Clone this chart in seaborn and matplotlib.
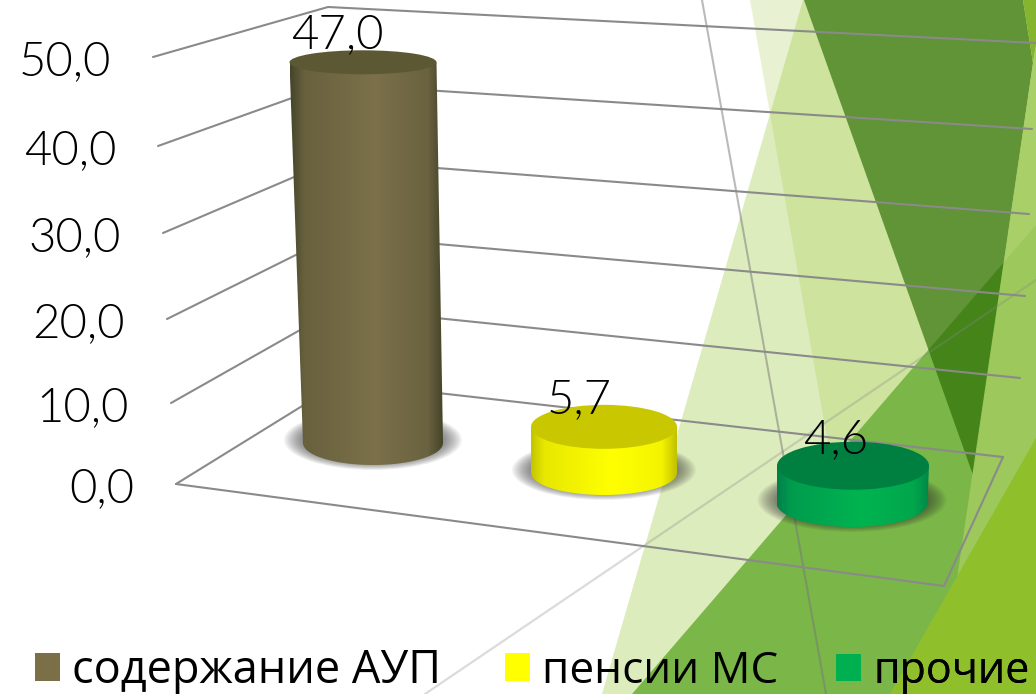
import numpy as np
import pandas as pd
import seaborn as sns
import matplotlib.pyplot as plt
from matplotlib.patches import Ellipse, Polygon, Patch
from matplotlib.colors import LinearSegmentedColormap

# data
categories = ['содержание АУП', 'пенсии МС', 'прочие']
values = [47.0, 5.7, 4.6]
tick_values = [0, 10, 20, 30, 40, 50]
colors = ['#7a6f47', '#ffff00', '#00b050']
top_colors = ['#5d5834', '#c9c800', '#008040']
side_stops = [0, 0.09, 0.55, 0.9, 1]
side_colors = [
    ['#45452a', '#68613e', '#7b7049', '#6a6240', '#434327'],
    ['#c4c400', '#e8e800', '#ffff00', '#f4f400', '#c2c200'],
    ['#00804a', '#009c4e', '#00b450', '#00a64c', '#008648'],
]

# layout, in pixels of the picture
W, H = 1036, 694
PX_PER_UNIT = 8.1
FLOOR_Y0 = 484
bar_x = [373, 604, 852]
bar_base_y = [443, 473, 503]
bar_lean = [-10, 0, 1]
top_w = [147, 146, 152]
foot_w = [140, 146, 151]
top_b = [12, 22, 24]
base_b = [22, 22, 24]
left_ends = [(176, 484), (171, 403), (167, 319), (163, 233), (158, 146), (153, 57)]
corners = [(341, 382), (339, 308), (336, 235), (334, 160), (331, 84), (328, 7)]
right_ends = [(1003, 457), (1020, 378), (1025, 296), (1029, 214), (1032, 129), (1036, 43)]
label_shift = [(-26, -27), (-25, -27), (-17, -26)]
legend_x = [35, 505, 836]
legend_size = [32.5, 31.8, 31.0]


def to_val(py):
    return (FLOOR_Y0 - py) / PX_PER_UNIT


sns.set_style('white')
plt.rcParams['font.family'] = ['Open Sans', 'DejaVu Sans']
fig = plt.figure(figsize=(W / 100, H / 100), dpi=100)

# background shapes and the walls of the 3d box
bg = fig.add_axes([0, 0, 1, 1])
bg.set_xlim(0, W)
bg.set_ylim(H, 0)
bg.axis('off')
bg.add_patch(Polygon([(803, 0), (W, 0), (W, H), (602, H)], fc='#90c226', alpha=0.3, lw=0))
bg.add_patch(Polygon([(750, 0), (W, 0), (W, H), (872, H)], fc='#90c226', alpha=0.2, lw=0))
bg.add_patch(Polygon([(W, 225), (W, H), (632, H)], fc='#7ab648', lw=0))
bg.add_patch(Polygon([(804, 0), (1023, 0), (1033, 63), (973, 475)], fc='#286900', alpha=0.65, lw=0))
bg.add_patch(Polygon([(1023, 0), (W, 0), (W, 45), (1033, 63)], fc='#85b52e', lw=0))
bg.add_patch(Polygon([(1033, 63), (W, 45), (W, H), (940, H)], fc='#a3cc60', alpha=0.85, lw=0))
bg.add_patch(Polygon([(W, 438), (W, H), (890, H)], fc='#8fc02c', lw=0))
bg.plot([702, 826], [0, 694], color='#777777', alpha=0.5, lw=1.5)
bg.plot([425, W], [694, 280], color='#888888', alpha=0.3, lw=1.6)

for le, co, re in zip(left_ends, corners, right_ends):
    bg.plot([le[0], co[0], re[0]], [le[1], co[1], re[1]], color='#8a8a8a', lw=1.5)
bg.plot([176, 944, 1003], [484, 586, 457], color='#8a8a8a', lw=1.5)

for v, le in zip(tick_values, left_ends):
    bg.text(le[0] - 42, le[1] + 5, f'{v:.1f}'.replace('.', ','), ha='right', va='center',
            fontsize=34, color='black', family='Lato', weight=300)

# cylinders: seaborn bar gives the geometry, then the round parts go on top
ax = fig.add_axes([0, 0, 1, 1])
ax.patch.set_alpha(0)
df = pd.DataFrame({'x': bar_x, 'value': values, 'cat': categories})
floors = [to_val(y) for y in bar_base_y]
sns.barplot(data=df, x='x', y='value', hue='cat', palette=colors, native_scale=True, dodge=False,
            width=0.63, legend=False, ax=ax)
ax.axis('off')
ylim = (to_val(H), to_val(0))

for i, bar in enumerate(list(ax.patches)):
    bar.set_alpha(0)
    cx = bar.get_x() + bar.get_width() / 2
    y0 = floors[i]
    h = bar.get_height()
    tw = top_w[i]
    fw = foot_w[i]
    tb = top_b[i] / PX_PER_UNIT
    bb = base_b[i] / PX_PER_UNIT

    # soft shadow round the foot
    for k in range(14):
        ax.add_patch(Ellipse((cx, y0 + 3 / PX_PER_UNIT), fw + 38 - k * 3, 2 * bb + (16 - k * 1.2) / PX_PER_UNIT,
                             fc='#303030', alpha=0.055, lw=0, zorder=2))

    t = np.linspace(np.pi, 2 * np.pi, 40)
    foot = np.column_stack([cx + fw / 2 * np.cos(t), y0 + bb * np.sin(t)])
    verts = np.vstack([[[cx + bar_lean[i] - tw / 2, y0 + h]], foot, [[cx + bar_lean[i] + tw / 2, y0 + h]]])
    body = Polygon(verts, closed=True, fc='none', lw=0, zorder=3)
    ax.add_patch(body)
    cmap = LinearSegmentedColormap.from_list(f'side{i}', list(zip(side_stops, side_colors[i])))
    left = min(cx - fw / 2, cx + bar_lean[i] - tw / 2)
    right = max(cx + fw / 2, cx + bar_lean[i] + tw / 2)
    im = ax.imshow(np.linspace(0, 1, 200)[None, :], cmap=cmap, aspect='auto', zorder=3,
                   extent=(left, right, y0 - bb, y0 + h))
    im.set_clip_path(body)
    ax.add_patch(Ellipse((cx + bar_lean[i], y0 + h), tw, 2 * tb, fc=top_colors[i], lw=0, zorder=4))

    dx, dy = label_shift[i]
    ax.text(cx + bar_lean[i] + dx, y0 + h - dy / PX_PER_UNIT, f'{values[i]:.1f}'.replace('.', ','),
            ha='center', va='center', fontsize=34, color='black', family='Lato', weight=300, zorder=6)

ax.set_xlim(0, W)
ax.set_ylim(*ylim)

# one small legend per entry, the gaps in the picture are not even
for cat, c, lx, fs in zip(categories, colors, legend_x, legend_size):
    leg = ax.legend([Patch(fc=c, lw=0)], [cat], frameon=False, loc='lower left',
                    bbox_to_anchor=(lx / W, 0.0), fontsize=fs, labelcolor='black',
                    handlelength=25 / (fs * 100 / 72), handleheight=0.6,
                    handletextpad=12 / (fs * 100 / 72), borderpad=0, borderaxespad=0)
    ax.add_artist(leg)

fig.savefig('out.png', dpi=100)
